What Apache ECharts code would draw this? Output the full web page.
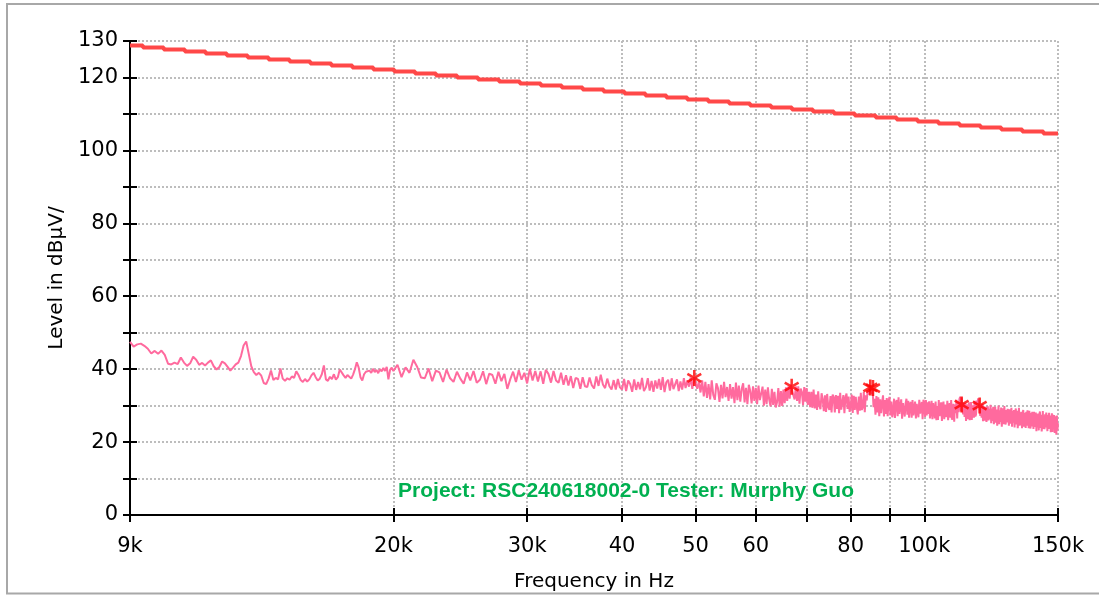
<!DOCTYPE html>
<html>
<head>
<meta charset="utf-8">
<title>Level vs Frequency</title>
<script src="https://cdn.jsdelivr.net/npm/echarts@6/dist/echarts.min.js"></script>
<style>
  html, body { margin: 0; padding: 0; background: #ffffff; }
  #chart { width: 1099px; height: 596px; }
</style>
</head>
<body>
<div id="chart"></div>
<script>
// ---- axis ticks ----
const xTickValues = [9, 20, 30, 40, 50, 60, 70, 80, 90, 100, 150];
const xTickLabels = ['9k', '20k', '30k', '40', '50', '60', '', '80', '', '100k', '150k'];
const yLabelValues = [0, 20, 40, 60, 80, 100, 120, 130];

// ---- limit line (kHz, dBµV), stepped ----
const limitFreq = [9, 9.36, 9.97, 10.63, 11.32, 12.07, 12.86, 13.70, 14.60, 15.55, 16.57,
  17.66, 18.82, 20.05, 21.36, 22.76, 24.26, 25.85, 27.55, 29.35, 31.27,
  33.32, 35.50, 37.83, 40.30, 42.95, 45.76, 48.75, 51.95, 55.35, 58.98,
  62.85, 66.96, 71.35, 76.03, 81.01, 86.32, 91.98, 98.01, 104.4, 111.3,
  118.6, 126.3, 134.6, 143.5, 150];
const limitLevel = [128.8, 128.25, 127.7, 127.15, 126.6, 126.05, 125.5, 124.95, 124.4, 123.85, 123.3,
  122.75, 122.2, 121.65, 121.1, 120.55, 120.0, 119.45, 118.9, 118.35, 117.8,
  117.25, 116.7, 116.15, 115.6, 115.05, 114.5, 113.95, 113.4, 112.85, 112.3,
  111.75, 111.2, 110.65, 110.1, 109.55, 109.0, 108.45, 107.9, 107.35, 106.8,
  106.25, 105.7, 105.15, 104.6, 104.6];

// ---- measured trace, 9.0 - 19.9 kHz, 0.1 kHz steps ----
const traceLowStart = 9.0;
const traceLowStep = 0.1;
const traceLow = [
  47.5, 46.2, 46.8, 47.0, 46.4, 45.6, 44.3, 45.0, 44.2, 45.1,
  43.9, 41.5, 41.3, 41.8, 41.4, 43.2, 41.8, 40.9, 41.6, 43.4,
  42.6, 41.2, 41.7, 41.0, 41.8, 42.4, 40.8, 39.9, 40.6, 42.1,
  41.6, 40.6, 39.6, 40.4, 41.3, 41.8, 43.6, 46.5, 47.6, 44.2,
  40.8, 39.2, 38.4, 39.0, 38.2, 36.2, 35.9, 37.4, 39.6, 37.0,
  37.6, 37.2, 40.2, 37.4, 36.8, 37.5, 37.1, 38.0, 37.6, 39.4,
  38.4, 37.0, 36.5, 37.3, 36.6, 37.2, 38.3, 39.0, 37.8, 36.9,
  37.4, 38.6, 41.0, 37.2, 36.8, 37.9, 37.3, 38.6, 37.1, 37.8,
  39.9, 40.1, 38.3, 37.6, 38.4, 38.0, 37.4, 38.5, 40.0, 41.9,
  40.5, 37.8, 36.9, 38.6, 39.3, 38.8, 39.6, 39.0, 40.1, 39.2,
  39.8, 38.9, 40.0, 39.4, 40.3, 39.5, 40.6, 37.2, 39.8, 40.4
];

// ---- measured trace, 20 - 150 kHz, 0.25 kHz steps (one group of four per kHz) ----
const traceHighStart = 20.0;
const traceHighStep = 0.25;
const traceHigh = [
  39.5, 41.2, 37.8, 40.5,  39.0, 42.6, 40.6, 37.7,  37.5, 40.2, 36.7, 39.6,  39.1, 36.5, 39.9, 37.5,
  36.5, 39.3, 37.4, 36.0,  39.1, 36.9, 39.5, 36.3,  37.1, 39.4, 35.9, 38.8,  38.4, 36.0, 39.3, 36.7,
  38.7, 34.6, 37.2, 39.3,  36.5, 39.7, 37.1, 39.0,  36.1, 40.1, 36.9, 39.5,  36.6, 39.4, 36.0, 39.8,
  38.7, 36.3, 39.5, 36.9,  36.3, 39.0, 35.7, 38.3,  35.5, 38.1, 34.8, 37.6,  37.3, 34.6, 37.8, 35.3,
  35.1, 37.7, 35.6, 34.7,  38.0, 35.4, 38.5, 35.8,  34.8, 37.4, 35.3, 34.4,  37.0, 34.4, 37.3, 35.0,
  34.4, 37.3, 34.0, 36.9,  35.9, 33.8, 37.2, 34.3,  36.5, 34.5, 37.6, 34.0,  35.0, 37.5, 34.1, 36.8,
  33.8, 36.9, 34.7, 37.3,  34.3, 37.8, 33.7, 36.4,  37.1, 34.1, 37.5, 34.5,  35.0, 37.2, 34.0, 36.6,
  34.4, 37.5, 34.8, 36.9,  35.2, 37.7, 34.6, 37.8,  37.6, 34.6, 36.6, 33.6,  36.9, 32.5, 36.5, 32.1,
  35.9, 31.7, 36.9, 32.9,  31.6, 36.1, 34.8, 31.0,  35.7, 32.0, 36.5, 32.3,  35.1, 31.3, 35.9, 31.9,
  35.1, 30.7, 36.3, 31.5,  35.5, 31.1, 34.6, 36.1,  30.9, 34.9, 30.4, 35.7,  34.0, 30.6, 35.3, 31.3,
  34.9, 30.4, 35.5, 31.5,  31.0, 35.2, 30.0, 34.4,  30.4, 35.0, 31.6, 29.8,  34.6, 30.2, 33.8, 29.5,
  31.0, 34.8, 29.7, 34.0,  29.9, 34.4, 30.7, 35.0,  31.3, 35.3, 31.9, 35.7,  36.0, 32.8, 31.7, 35.3,
  31.3, 35.3, 30.5, 34.7,  33.8, 30.1, 35.1, 31.1,  34.8, 30.2, 33.8, 29.6,  33.8, 29.4, 34.4, 29.2,
  33.0, 28.8, 33.9, 30.0,  29.0, 33.4, 31.7, 28.5,  32.8, 28.3, 33.2, 29.6,  28.8, 32.6, 28.1, 33.0,
  32.3, 28.1, 32.9, 29.1,  32.7, 27.9, 33.5, 28.9,  28.7, 32.9, 27.9, 32.3,  33.3, 29.1, 32.5, 28.3,
  29.5, 33.0, 28.0, 32.7,  28.8, 32.4, 29.5, 27.6,  32.5, 28.6, 33.5, 28.8,  29.6, 33.7, 28.2, 32.8,
  31.4, 34.2, 33.0, 35.6,  35.9, 33.2, 34.4, 29.6,  31.9, 27.5, 32.6, 28.1,  32.3, 27.1, 31.7, 27.9,
  30.8, 32.8, 27.0, 31.5,  27.7, 32.1, 27.1, 31.3,  32.4, 27.3, 31.1, 26.8,  28.3, 31.9, 26.6, 30.9,
  31.5, 27.1, 32.3, 27.7,  27.3, 31.7, 26.4, 30.7,  31.1, 27.0, 30.6, 31.9,  27.5, 31.3, 26.7, 30.4,
  31.0, 26.7, 31.5, 27.3,  27.3, 31.1, 26.5, 30.5,  31.0, 26.8, 31.6, 27.8,  27.4, 31.0, 26.3, 31.6,
  30.7, 26.9, 31.5, 27.3,  30.9, 27.7, 31.2, 26.5,  26.9, 31.3, 26.3, 30.7,  30.3, 26.5, 31.1, 26.0,
  29.9, 26.1, 31.5, 27.1,  26.7, 30.9, 25.8, 30.1,  31.1, 26.3, 30.3, 26.9,  27.5, 31.3, 26.0, 29.6,
  30.7, 26.7, 31.5, 26.1,  27.1, 30.5, 25.6, 30.3,  27.9, 31.6, 26.5, 31.1,  28.2, 31.8, 32.4, 28.4,
  32.2, 29.0, 27.6, 30.8,  26.9, 30.7, 25.8, 29.7,  30.3, 26.3, 30.9, 26.0,  27.2, 31.0, 26.1, 30.1,
  30.5, 26.7, 31.3, 27.0,  27.6, 31.4, 30.5, 32.0,  31.6, 28.8, 27.2, 30.3,  26.7, 30.4, 25.7, 29.8,
  30.3, 25.9, 29.7, 25.5,  27.5, 29.8, 25.9, 29.1,  26.2, 30.2, 25.2, 29.2,  25.8, 29.7, 24.9, 29.0,
  29.7, 25.3, 28.9, 24.5,  26.3, 30.0, 24.9, 28.7,  25.5, 29.5, 24.2, 28.5,  29.3, 24.9, 29.9, 25.5,
  24.8, 28.8, 25.4, 29.1,  28.3, 24.5, 29.0, 25.1,  25.7, 29.4, 24.2, 28.5,  25.3, 28.8, 24.0, 28.3,
  29.2, 24.8, 28.6, 23.8,  25.6, 29.4, 24.5, 28.2,  24.6, 28.3, 23.8, 27.8,  28.8, 24.2, 28.0, 25.0,
  23.9, 28.3, 24.5, 28.7,  27.6, 23.8, 28.6, 24.8,  23.7, 28.0, 24.3, 28.3,  27.4, 23.6, 28.3, 24.2,
  24.8, 28.1, 23.0, 27.6,  24.0, 27.8, 23.2, 27.4,  28.4, 23.9, 27.5, 22.9,  24.7, 28.5, 23.6, 27.2,
  23.5, 27.6, 24.0, 28.1,  27.0, 23.0, 27.4, 23.6,  28.0, 23.7, 27.3, 22.7,  24.3, 27.9, 22.8, 27.5,
  23.7, 27.4, 22.5, 27.1,  26.4, 22.0, 27.3, 23.2,
  25.2
];

// ---- peak markers (kHz, dBµV) ----
const peakFreq = [49.8, 66.9, 84.9, 85.6, 112.0, 118.3];
const peakLevel = [37.6, 35.2, 35.0, 34.8, 30.3, 30.0];

const footnote = 'Project: RSC240618002-0 Tester: Murphy Guo';

// ---- build series data ----
function gridSeries(start, step, values) {
  return values.map((v, i) => [+(start + i * step).toFixed(2), v]);
}
const traceData = gridSeries(traceLowStart, traceLowStep, traceLow)
  .concat(gridSeries(traceHighStart, traceHighStep, traceHigh));
const limitData = limitFreq.map((f, i) => [f, limitLevel[i]]);
const peakData = peakFreq.map((f, i) => [f, peakLevel[i]]);

// six-armed asterisk symbol
const asterisk = 'path://M8.4 0 L11.6 0 L11.6 20 L8.4 20 Z ' +
  'M2.14 3.61 L19.46 13.61 L17.86 16.39 L0.54 6.39 Z ' +
  'M0.54 13.61 L17.86 3.61 L19.46 6.39 L2.14 16.39 Z';

function xLabel(v) {
  for (let i = 0; i < xTickValues.length; i++) {
    if (Math.abs(xTickValues[i] - v) < 1e-6 * xTickValues[i] + 1e-6) return xTickLabels[i];
  }
  return '';
}

const axisFont = { color: '#000', fontFamily: 'DejaVu Sans', fontSize: 21 };
const nameFont = { color: '#000', fontFamily: 'DejaVu Sans', fontSize: 20 };
const blackLine = { color: '#000', width: 2 };
const dotted = { color: '#bdbdbd', width: 2, type: [2, 2] };

const chart = echarts.init(document.getElementById('chart'), null, { renderer: 'canvas' });
chart.setOption({
  animation: false,
  backgroundColor: '#ffffff',
  grid: { left: 130, right: 41, top: 41, bottom: 81, containLabel: false, outerBoundsMode: 'none' },
  xAxis: [{
    type: 'log', logBase: 10, min: 9, max: 150, position: 'bottom',
    axisLine: { lineStyle: blackLine },
    axisTick: { customValues: xTickValues, length: 7, lineStyle: blackLine },
    axisLabel: Object.assign({ customValues: xTickValues, formatter: xLabel, margin: 21 }, axisFont),
    splitLine: { show: true, lineStyle: dotted },
    minorTick: { show: false }, minorSplitLine: { show: false },
    name: 'Frequency in Hz', nameLocation: 'middle', nameGap: 57,
    nameTextStyle: nameFont
  }, {
    type: 'log', logBase: 10, min: 9, max: 150, position: 'bottom',
    axisLine: { show: false },
    axisTick: { customValues: xTickValues, inside: true, length: 7, lineStyle: blackLine },
    axisLabel: { show: false },
    splitLine: { show: false }
  }],
  yAxis: [{
    type: 'value', min: 0, max: 130, interval: 10, position: 'left',
    axisLine: { show: true, lineStyle: blackLine },
    axisTick: { show: true, length: 7, lineStyle: blackLine },
    axisLabel: Object.assign({
      margin: 12,
      formatter: v => (yLabelValues.indexOf(v) >= 0 ? String(v) : '')
    }, axisFont),
    splitLine: { show: true, lineStyle: dotted },
    name: 'Level in dBµV/', nameLocation: 'middle', nameGap: 55,
    nameTextStyle: nameFont
  }, {
    type: 'value', min: 0, max: 130, interval: 10, position: 'left',
    axisLine: { show: false },
    axisTick: { show: true, inside: true, length: 7, lineStyle: blackLine },
    axisLabel: { show: false },
    splitLine: { show: false }
  }],
  series: [{
    type: 'line', name: 'Limit', data: limitData, step: 'end',
    xAxisIndex: 0, yAxisIndex: 0,
    showSymbol: false, symbol: 'none', silent: true,
    lineStyle: { color: '#ff4848', width: 4 }, z: 3
  }, {
    type: 'line', name: 'Level', data: traceData,
    xAxisIndex: 0, yAxisIndex: 0,
    showSymbol: false, symbol: 'none', silent: true, sampling: false,
    lineStyle: { color: '#ff6a9e', width: 2 }, z: 4
  }, {
    type: 'scatter', name: 'Peaks', data: peakData,
    xAxisIndex: 0, yAxisIndex: 0,
    symbol: asterisk, symbolSize: 16, symbolKeepAspect: true, silent: true,
    itemStyle: { color: '#ff0000' }, z: 5
  }],
  graphic: [{
    type: 'text', x: 626, y: 491.5, z: 50,
    style: {
      text: footnote, fill: '#00b050', fontFamily: 'Liberation Sans',
      fontWeight: 'bold', fontSize: 21, align: 'center', verticalAlign: 'middle'
    }
  }, {
    type: 'rect', z: 99, silent: true,
    shape: { x: 0, y: 594, width: 1099, height: 2 },
    style: { fill: '#ffffff' }
  }, {
    type: 'rect', z: 100, silent: true,
    shape: { x: 7, y: 4, width: 1100, height: 589.5 },
    style: { fill: 'none', stroke: '#a8a8a8', lineWidth: 2 }
  }]
});
</script>
</body>
</html>
